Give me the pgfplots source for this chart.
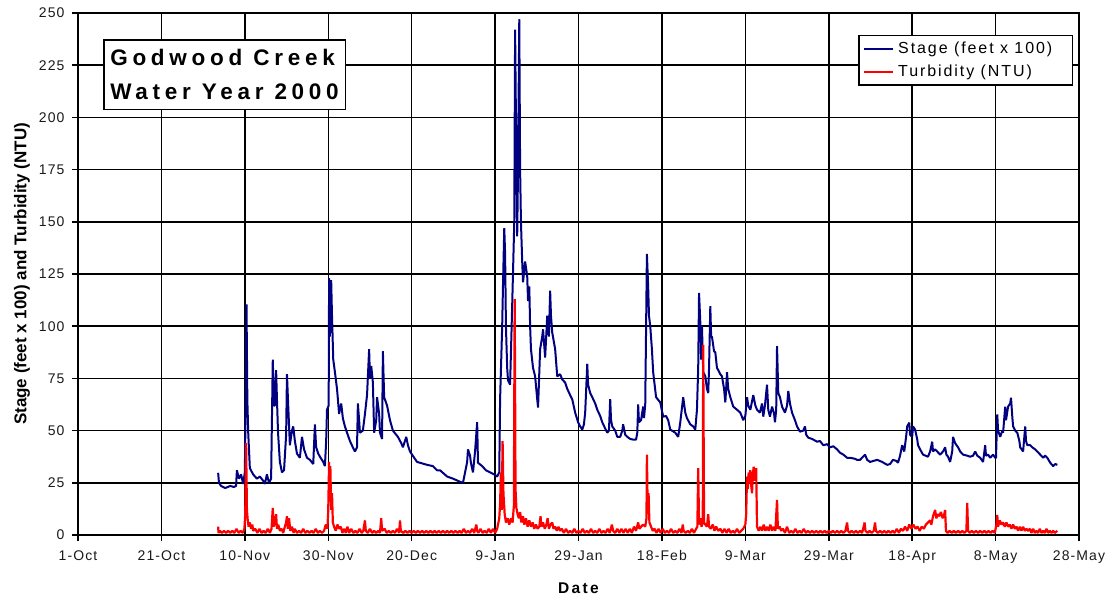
\documentclass[border=0pt]{standalone}
\usepackage{fontspec}
\setmainfont{Liberation Sans}
\newfontfamily\tickfont{Liberation Sans}[LetterSpace=8]
\newfontfamily\legfont{Liberation Sans}[LetterSpace=12]
\newfontfamily\titlefont{Liberation Sans}[LetterSpace=21]
\newfontfamily\datefont{Liberation Sans}[LetterSpace=15]
\usepackage{pgfplots}
\usepackage{pgfplotstable}
\pgfplotsset{compat=1.18}
\definecolor{stagecol}{RGB}{0,0,128}
\definecolor{turbcol}{RGB}{255,0,0}

\pgfplotstableread[row sep=\\]{
day val\\
33.6 29.8\\ 33.8 25\\ 34.3 23.5\\ 35.3 22.5\\ 36.5 23.5\\ 37.4 23\\ 37.9 23.5\\ 38.1 31\\ 38.6 27\\ 39.1 29\\ 39.6 24.5\\ 40.0 30\\ 40.2 63\\ 40.4 110.5\\ 40.6 65\\ 40.8 49.5\\ 41.2 32\\ 42.0 29\\ 42.9 27\\ 43.6 28\\ 44.4 26\\ 44.8 24.5\\ 45.3 29\\ 45.8 25\\ 46.3 27\\ 46.7 84\\ 47.0 62\\ 47.2 62\\ 47.5 79\\ 47.7 65\\ 47.96 49\\ 48.4 35\\ 48.9 30\\ 49.4 31\\ 49.9 48\\ 50.1 77\\ 50.4 62\\ 50.8 43\\ 51.3 50\\ 51.6 52\\ 52.0 45\\ 52.5 39\\ 53.2 37\\ 53.7 47\\ 54.2 41\\ 54.9 37\\ 55.6 36\\ 56.4 34\\ 56.8 53\\ 57.1 42\\ 57.6 39\\ 58.0 37.5\\ 58.8 35\\ 59.2 33\\ 59.5 45\\ 59.7 60\\ 60.1 62\\ 60.2 123\\ 60.4 95\\ 60.7 122\\ 60.9 105\\ 61.2 84\\ 61.6 78\\ 62.1 70\\ 62.6 58\\ 63.1 63\\ 63.5 56\\ 64.0 52\\ 64.5 49\\ 65.2 45\\ 65.9 42\\ 66.4 40\\ 66.9 42\\ 67.1 63\\ 67.4 55\\ 67.6 49\\ 68.3 50\\ 68.8 58\\ 69.3 67\\ 69.8 89\\ 70.0 75\\ 70.3 81\\ 70.7 73\\ 71.0 49\\ 71.5 55\\ 71.7 66\\ 72.2 58\\ 72.4 49\\ 72.9 46\\ 73.1 88\\ 73.4 66\\ 74.1 62\\ 74.8 55\\ 75.5 50\\ 76.3 48\\ 76.7 47\\ 77.5 44\\ 77.9 42\\ 78.7 47\\ 79.1 43\\ 79.6 40\\ 80.6 37\\ 81.3 35\\ 82.0 34.6\\ 83.7 33.6\\ 85.1 33\\ 86.1 31\\ 86.8 31\\ 88.5 28\\ 89.9 27\\ 91.6 25.5\\ 92.3 25\\ 92.8 30\\ 93.3 35\\ 93.5 41\\ 94.0 38\\ 94.2 34.6\\ 94.7 30\\ 95.2 40\\ 95.7 54\\ 95.9 34.6\\ 96.9 33\\ 97.8 31\\ 98.8 30\\ 99.8 29\\ 100.5 28\\ 101.0 30\\ 101.2 65\\ 101.7 100\\ 101.9 120\\ 102.2 147\\ 102.4 135\\ 102.6 100\\ 102.9 80\\ 103.1 74\\ 103.6 72\\ 104.1 110\\ 104.6 150\\ 104.8 242\\ 105.0 199\\ 105.3 143\\ 105.5 175\\ 105.8 247\\ 106.0 175\\ 106.2 150\\ 106.5 131\\ 106.7 121\\ 107.2 131\\ 107.7 124\\ 107.9 112\\ 108.2 119\\ 108.4 100\\ 108.6 89\\ 109.1 80\\ 109.6 76\\ 110.1 65\\ 110.3 61\\ 110.8 89\\ 111.3 95\\ 111.5 98.5\\ 112.0 85\\ 112.5 105\\ 112.9 95\\ 113.2 117\\ 113.4 105\\ 113.7 97\\ 114.4 89\\ 114.9 76\\ 115.6 77\\ 116.1 74.5\\ 116.8 73\\ 117.3 70\\ 118.0 67\\ 118.5 65\\ 119.2 58.6\\ 119.9 54\\ 120.4 52\\ 120.9 50.5\\ 121.3 53\\ 121.6 58.6\\ 122.1 82\\ 122.3 72\\ 122.8 68\\ 123.3 66\\ 124.0 63\\ 124.5 60\\ 125.2 57\\ 125.7 54\\ 126.4 51\\ 126.9 49\\ 127.3 50\\ 127.6 65\\ 127.8 55\\ 128.1 52\\ 128.8 50\\ 129.3 47\\ 130.0 47\\ 130.5 50\\ 130.7 53\\ 131.2 48\\ 131.7 47\\ 132.4 46\\ 133.1 45.7\\ 133.8 45.7\\ 134.1 49\\ 134.3 62.5\\ 134.5 54\\ 135.0 55\\ 135.5 61.5\\ 135.7 56\\ 136.0 62.5\\ 136.4 134.6\\ 136.7 119\\ 136.9 105\\ 137.2 100\\ 137.6 89\\ 137.9 78\\ 138.6 66\\ 139.6 63.5\\ 140.3 56.7\\ 141.0 57\\ 141.5 55\\ 142.0 50.5\\ 143.2 49\\ 143.9 47\\ 144.4 54\\ 145.1 66\\ 145.6 58.6\\ 146.0 56\\ 146.8 53\\ 147.5 52\\ 148.0 50.5\\ 148.4 60\\ 148.7 80\\ 148.9 116\\ 149.2 102\\ 149.4 84\\ 149.6 100\\ 149.9 78\\ 150.4 76\\ 150.8 70\\ 151.1 68\\ 151.3 80\\ 151.6 109.6\\ 151.8 95\\ 152.0 95\\ 152.5 88\\ 152.8 87.5\\ 153.2 80\\ 153.5 79\\ 154.0 77\\ 154.4 76\\ 154.9 70\\ 155.2 63.5\\ 155.4 70\\ 155.6 78\\ 155.9 70\\ 156.4 66\\ 157.1 61.5\\ 158.0 60\\ 158.8 58.6\\ 159.5 55\\ 160.0 57\\ 160.4 66\\ 160.7 62\\ 161.2 60\\ 161.6 64\\ 161.9 67\\ 162.4 62\\ 162.8 60\\ 163.5 58.6\\ 164.0 63\\ 164.3 56.7\\ 164.7 62\\ 165.2 72\\ 165.5 60\\ 165.9 56.7\\ 166.4 61.5\\ 166.9 58\\ 167.1 54\\ 167.4 60\\ 167.6 90.5\\ 167.9 68\\ 168.3 66\\ 168.8 61.5\\ 169.5 58.6\\ 170.0 62\\ 170.3 69\\ 170.7 63\\ 171.2 58.6\\ 171.9 55\\ 172.4 52\\ 173.1 49.5\\ 173.9 50\\ 174.3 52\\ 174.6 48\\ 175.1 46.6\\ 176.0 46\\ 177.2 44.7\\ 177.9 45\\ 178.7 43\\ 179.6 43.5\\ 180.3 42\\ 181.1 42.5\\ 182.0 41\\ 182.7 39.4\\ 183.5 38.5\\ 184.4 37\\ 185.1 37\\ 186.3 36.5\\ 186.8 36\\ 187.5 36\\ 188.7 38.5\\ 189.2 36\\ 189.9 35\\ 191.6 36\\ 192.8 35\\ 194.0 33.6\\ 194.7 34\\ 195.4 36\\ 196.2 35.5\\ 196.6 34.6\\ 197.1 38\\ 197.6 43\\ 198.1 40\\ 198.6 48\\ 198.8 52\\ 199.3 53.8\\ 199.5 48\\ 200.0 47\\ 200.2 52\\ 200.7 50.5\\ 201.2 46\\ 201.4 43\\ 201.9 41\\ 202.6 38.5\\ 203.8 37.5\\ 204.3 40\\ 204.8 44.7\\ 205.0 40\\ 205.5 41\\ 206.0 40\\ 206.7 38.5\\ 207.4 40\\ 207.9 42\\ 208.2 38.5\\ 208.6 37.5\\ 209.1 35\\ 209.6 40\\ 209.8 47\\ 210.3 44\\ 211.0 42\\ 211.5 40\\ 212.2 38.5\\ 213.2 38\\ 213.9 37.5\\ 214.6 38\\ 215.1 40\\ 215.6 38\\ 216.3 37\\ 217.0 35\\ 217.5 43\\ 217.7 38\\ 218.2 38.5\\ 218.7 37\\ 219.4 38.5\\ 219.9 37\\ 220.1 37\\ 220.4 57.7\\ 220.6 50\\ 221.1 47\\ 221.6 50\\ 221.8 49\\ 222.3 61.5\\ 222.5 55\\ 223.0 61.5\\ 223.5 63\\ 223.7 65.7\\ 224.0 56.7\\ 224.2 52\\ 224.7 50\\ 225.2 49\\ 225.7 45\\ 225.9 42\\ 226.6 40\\ 227.1 52\\ 227.3 45\\ 227.6 43\\ 228.3 43\\ 228.8 42\\ 229.5 41\\ 230.0 40\\ 230.7 38.5\\ 231.4 37\\ 231.9 38\\ 232.4 37\\ 233.1 34.6\\ 233.8 33\\ 234.3 34\\ 234.8 33.6\\
}\stagedata

\pgfplotstableread[row sep=\\]{
day val\\
33.6 4\\ 33.7 1\\ 34.0 2\\ 34.5 1\\ 35.0 2\\ 35.5 1\\ 36.0 2\\ 36.5 1\\ 37.0 2\\ 37.5 1\\ 38.0 3\\ 38.5 1\\ 39.0 2\\ 39.5 1\\ 39.9 3\\
40.1 10\\ 40.3 44\\ 40.5 12\\ 40.7 7\\ 40.9 4\\ 41.2 6\\ 41.5 3\\ 41.8 5\\ 42.0 2\\ 42.5 3\\ 43.0 1\\ 43.5 3\\ 44.0 1\\ 44.5 2\\ 45.0 1\\ 45.5 3\\ 46.0 1\\ 46.4 3\\
46.7 13\\ 46.9 4\\ 47.2 6\\ 47.5 10\\ 47.7 3\\ 48.0 5\\ 48.4 2\\ 48.8 3\\ 49.2 1\\ 49.6 4\\ 49.9 6\\ 50.1 9\\ 50.3 3\\ 50.6 8\\ 50.9 2\\ 51.3 4\\ 51.7 1\\ 52.0 3\\ 52.5 1\\ 53.0 2\\ 53.5 1\\ 54.0 3\\ 54.5 1\\ 55.0 2\\ 55.5 1\\ 56.0 2\\ 56.5 1\\ 57.0 3\\ 57.5 1\\ 58.0 2\\ 58.5 1\\ 59.0 2\\ 59.4 5\\ 59.8 3\\
60.0 12\\ 60.2 35\\ 60.3 20\\ 60.5 33\\ 60.7 12\\ 60.9 20\\ 61.1 6\\ 61.4 4\\ 61.8 2\\ 62.2 5\\ 62.6 3\\ 63.0 4\\ 63.4 1\\ 63.8 3\\ 64.2 1\\ 64.6 4\\ 65.0 1\\ 65.5 3\\ 66.0 1\\ 66.5 2\\ 67.0 1\\ 67.5 3\\ 68.0 1\\ 68.4 2\\ 68.8 7\\ 69.0 2\\ 69.5 1\\ 70.0 3\\ 70.5 1\\ 71.0 2\\ 71.5 1\\ 72.0 2\\ 72.4 1\\ 72.7 8\\ 72.9 2\\ 73.5 3\\ 74.0 1\\ 74.5 2\\ 75.0 1\\ 75.5 2\\ 76.0 1\\ 76.5 3\\ 77.0 1\\ 77.2 7\\ 77.4 2\\ 78.0 1\\ 78.5 2\\ 79.0 1\\ 79.5 2\\ 80.0 1\\ 80.5 2\\ 81.0 1\\ 81.5 2\\ 82.0 1\\ 82.5 2\\ 83.0 1\\ 83.5 2\\ 84.0 1\\ 84.5 2\\ 85.0 1\\ 85.5 2\\ 86.0 1\\ 86.5 2\\ 87.0 1\\ 87.5 2\\ 88.0 1\\ 88.5 2\\ 89.0 1\\ 89.5 2\\ 90.0 1\\ 90.5 2\\ 91.0 1\\ 91.5 2\\ 92.0 1\\ 92.5 3\\ 93.0 1\\ 93.5 2\\ 94.0 1\\ 94.5 3\\ 95.0 1\\ 95.5 5\\ 95.7 2\\ 96.0 1\\ 96.5 3\\ 97.0 1\\ 97.5 2\\ 98.0 1\\ 98.5 3\\ 99.0 1\\ 99.5 3\\ 100.0 1\\ 100.5 3\\
101.0 8\\ 101.2 15\\ 101.4 30\\ 101.6 12\\ 101.8 45\\ 102.0 20\\ 102.3 10\\ 102.6 6\\ 103.0 8\\ 103.4 5\\ 103.8 8\\ 104.2 6\\ 104.5 14\\ 104.7 113\\ 104.9 22\\ 105.1 13\\ 105.4 10\\ 105.7 8\\ 106.0 11\\ 106.3 6\\ 106.7 9\\ 107.0 5\\ 107.4 8\\ 107.8 4\\ 108.2 7\\ 108.6 4\\ 109.0 6\\ 109.4 3\\ 109.8 5\\ 110.2 3\\ 110.6 4\\ 110.9 9\\ 111.1 4\\ 111.5 6\\ 111.9 3\\ 112.3 5\\ 112.6 8\\ 112.9 3\\ 113.3 5\\ 113.7 6\\ 114.0 3\\ 114.4 4\\ 114.8 2\\ 115.2 4\\ 115.6 2\\ 116.0 3\\ 116.5 1\\ 117.0 3\\ 117.5 1\\ 118.0 2\\ 118.5 1\\ 119.0 3\\ 119.5 1\\ 120.0 2\\ 120.5 1\\ 121.0 3\\ 121.5 1\\ 122.0 2\\ 122.5 1\\ 123.0 3\\ 123.5 1\\ 124.0 2\\ 124.5 1\\ 125.0 3\\ 125.5 1\\ 126.0 2\\ 126.5 1\\ 127.0 3\\ 127.5 1\\ 128.0 5\\ 128.3 2\\ 128.8 1\\ 129.3 3\\ 129.8 1\\ 130.3 3\\ 130.8 1\\ 131.3 3\\ 131.8 1\\ 132.3 3\\ 132.8 1\\ 133.3 4\\ 133.8 2\\ 134.3 6\\ 134.6 3\\ 135.0 4\\ 135.5 5\\ 136.0 4\\
136.3 8\\ 136.4 38.5\\ 136.6 10\\ 136.8 20\\ 137.0 6\\ 137.4 4\\ 137.8 2\\ 138.2 3\\ 138.7 1\\ 139.2 3\\ 139.7 1\\ 140.2 3\\ 140.7 1\\ 141.2 2\\ 141.7 1\\ 142.2 3\\ 142.7 1\\ 143.2 2\\ 143.7 1\\ 144.2 3\\ 144.7 1\\ 145.0 5\\ 145.2 2\\ 145.7 1\\ 146.2 2\\ 146.7 1\\ 147.2 3\\ 147.7 1\\ 148.2 3\\ 148.5 4\\ 148.7 32\\ 148.9 5\\ 149.2 8\\ 149.5 4\\ 149.8 6\\ 149.9 91\\ 150.1 6\\ 150.4 5\\ 150.8 4\\ 151.1 10\\ 151.3 4\\ 151.7 3\\ 152.2 5\\ 152.6 2\\ 153.0 4\\ 153.5 2\\ 154.0 3\\ 154.5 1\\ 155.0 3\\ 155.5 1\\ 156.0 3\\ 156.5 1\\ 157.0 2\\ 157.5 1\\ 158.0 3\\ 158.5 1\\ 159.0 2\\ 159.5 3\\ 160.0 5\\
160.2 10\\ 160.4 28\\ 160.6 22\\ 160.8 30\\ 161.0 25\\ 161.2 31\\ 161.4 24\\ 161.6 20\\ 161.8 29\\ 162.0 32.7\\ 162.2 26\\ 162.4 28\\ 162.6 32\\ 162.8 4\\ 163.2 2\\ 163.6 4\\ 164.0 2\\ 164.4 5\\ 164.8 2\\ 165.2 4\\ 165.6 2\\ 166.0 5\\ 166.4 2\\ 166.8 4\\ 167.2 2\\ 167.6 16.8\\ 167.8 3\\ 168.2 4\\ 168.6 2\\ 169.0 3\\ 169.5 1\\ 170.0 4\\ 170.5 1\\ 171.0 2\\ 171.5 1\\ 172.0 3\\ 172.5 1\\ 173.0 2\\ 173.5 1\\ 174.0 3\\ 174.5 1\\ 175.0 2\\ 175.5 1\\ 176.0 2\\ 176.5 1\\ 177.0 2\\ 177.5 1\\ 178.0 2\\ 178.5 1\\ 179.0 2\\ 179.5 1\\ 180.0 2\\ 180.5 1\\ 181.0 2\\ 181.5 1\\ 182.0 2\\ 182.5 1\\ 183.0 2\\ 183.5 1\\ 184.0 2\\ 184.4 6\\ 184.6 2\\ 185.0 1\\ 185.5 2\\ 186.0 1\\ 186.5 2\\ 187.0 1\\ 187.5 2\\ 188.0 1\\ 188.6 6\\ 188.8 2\\ 189.3 1\\ 189.8 2\\ 190.3 1\\ 190.8 2\\ 191.1 6\\ 191.3 2\\ 191.8 1\\ 192.3 2\\ 192.8 1\\ 193.3 2\\ 193.8 1\\ 194.3 2\\ 194.8 1\\ 195.3 2\\ 195.8 1\\ 196.3 3\\ 196.8 1\\ 197.3 3\\ 197.8 2\\ 198.3 4\\ 198.8 2\\ 199.3 5\\ 199.8 3\\ 200.3 5\\ 200.8 3\\ 201.3 4\\ 201.8 2\\ 202.3 4\\ 202.8 3\\ 203.3 5\\ 203.8 6\\ 204.3 7\\ 204.6 5\\ 205.0 9\\ 205.5 12\\ 205.8 8\\ 206.1 10\\ 206.5 9\\ 206.9 11\\ 207.3 8\\ 207.7 10\\ 207.9 12\\ 208.1 2\\ 208.5 1\\ 209.0 2\\ 209.5 1\\ 210.0 2\\ 210.5 1\\ 211.0 2\\ 211.5 1\\ 212.0 2\\ 212.5 1\\ 213.0 2\\ 213.2 15.4\\ 213.4 2\\ 213.8 1\\ 214.3 2\\ 214.8 1\\ 215.3 2\\ 215.8 1\\ 216.3 2\\ 216.8 1\\ 217.3 2\\ 217.8 1\\ 218.3 2\\ 218.8 1\\ 219.3 2\\ 219.8 1\\ 220.2 5\\ 220.4 9.6\\ 220.6 4\\ 221.0 7\\ 221.4 5\\ 221.8 6\\ 222.2 4\\ 222.6 6\\ 223.0 4\\ 223.4 5\\ 223.8 3\\ 224.2 5\\ 224.6 3\\ 225.0 4\\ 225.4 2\\ 225.8 4\\ 226.2 2\\ 226.6 4\\ 227.0 2\\ 227.4 3\\ 227.8 2\\ 228.2 3\\ 228.6 1\\ 229.0 3\\ 229.4 1\\ 229.8 2\\ 230.2 1\\ 230.6 3\\ 231.0 1\\ 231.4 2\\ 231.8 1\\ 232.2 3\\ 232.6 1\\ 233.0 2\\ 233.4 1\\ 233.8 2\\ 234.2 1\\ 234.8 2\\
}\turbdata

\begin{document}
\begin{tikzpicture}
\begin{axis}[
  scale only axis, width=1001pt, height=522pt,
  xmin=0, xmax=240, ymin=0, ymax=250,
  xtick={0,20,...,240},
  xticklabels={1-Oct,21-Oct,10-Nov,30-Nov,20-Dec,9-Jan,29-Jan,18-Feb,9-Mar,29-Mar,18-Apr,8-May,28-May},
  ytick={0,25,...,250},
  yticklabels={0,25,50,75,100,125,150,175,200,225,250},
  tick pos=left, tick align=outside, major tick length=6pt,
  grid=major, major grid style={black, line width=1.5pt},
  axis line style={black, line width=1.5pt},
  every tick/.style={black, line width=1.5pt},
  ticklabel style={font=\tickfont\fontsize{14}{16}\selectfont, text=black!90},
  xticklabel style={yshift=-6pt},
  yticklabel style={xshift=-4pt},
  xlabel={Date},
  ylabel={Stage (feet x 100) and Turbidity (NTU)},
  xlabel style={font=\datefont\bfseries\fontsize{15.5}{18}\selectfont, at={(axis description cs:0.5,0)}, anchor=base, yshift=-58pt},
  ylabel style={font=\bfseries\fontsize{17}{19}\selectfont, at={(axis description cs:0,0.5)}, anchor=base, yshift=51.5pt},
  legend style={at={(axis description cs:1,1)}, anchor=north east, xshift=-6pt, yshift=-22pt,
    draw=black, line width=1.5pt, fill=white, font=\legfont\fontsize{16}{18}\selectfont,
    inner xsep=4pt, inner ysep=4.5pt, row sep=6pt, cells={anchor=west}},
  legend image code/.code={\draw[#1, line width=2.2pt, line cap=butt] (2pt,0pt) -- (31pt,0pt); \path (33pt,0pt);},
]
\addplot[stagecol, line width=2pt, line join=bevel, no markers] table[x=day,y=val] {\stagedata};
\addlegendentry{Stage (feet x 100)\rule{14pt}{0pt}}
\addplot[turbcol, line width=2.2pt, line join=bevel, no markers] table[x=day,y=val] {\turbdata};
\addlegendentry{Turbidity (NTU)}
\node[draw=black, line width=1.5pt, fill=white, anchor=north west, align=left,
  inner xsep=6.5pt, inner ysep=9.5pt,
  font=\titlefont\bfseries\fontsize{22.5}{34}\selectfont]
  at (rel axis cs:0.025,0.950) {Godwood Creek\\Water Year 2000};
\end{axis}
\pgfresetboundingbox
\path ([xshift=-78pt,yshift=-64pt]current axis.south west) rectangle ([xshift=33pt,yshift=13pt]current axis.north east);
\end{tikzpicture}
\end{document}
